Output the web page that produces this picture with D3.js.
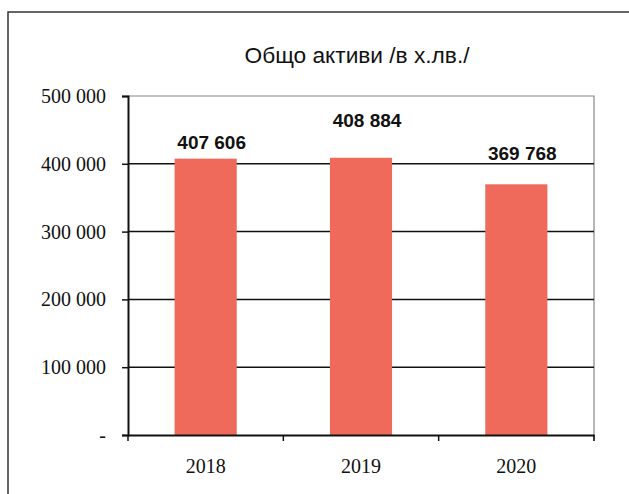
<!DOCTYPE html>
<html lang="bg">
<head>
    <meta charset="UTF-8">
    <title>Общо активи</title>
    <script src="https://d3js.org/d3.v7.min.js"></script>
    <style>
        body{ margin:0; background:#fff; }
        svg text{ fill:#111; }
    </style>
</head>
<body>
<svg id="chart" width="629" height="494"></svg>

<script>
    // data
    let years = ["2018", "2019", "2020"];
    let assets = [407606, 408884, 369768];
    let valueLabels = ["407 606", "408 884", "369 768"];
    let labelLift = [10, 31, 24]; // the labels don't sit at the same height above bars
    let yTicks = [0, 100000, 200000, 300000, 400000, 500000];
    let yTickLabels = ["-", "100 000", "200 000", "300 000", "400 000", "500 000"];

    let svg = d3.select("#chart");
    let plotLeft = 128, plotRight = 594, plotTop = 96, plotBottom = 435;

    // outer frame (scanned page edge)
    svg.append("path")
        .attr("d", "M8,494 L8,12 L629,12")
        .attr("fill", "none")
        .attr("stroke", "#333")
        .attr("stroke-width", 1.5);

    let x = d3.scaleBand()
        .domain(years)
        .range([plotLeft, plotRight])
        .paddingInner(0.6)
        .paddingOuter(0.3);

    let y = d3.scaleLinear()
        .domain([0, 500000])
        .range([plotBottom, plotTop]);

    // plot border top/right
    svg.append("path")
        .attr("d", `M${plotLeft},${plotTop} L${plotRight},${plotTop} L${plotRight},${plotBottom + 6}`)
        .attr("fill", "none")
        .attr("stroke", "#888")
        .attr("stroke-width", 1.2);

    // gridlines
    svg.append("g")
        .selectAll("line")
        .data(yTicks.filter(d => d > 0 && d < 500000))
        .join("line")
        .attr("x1", plotLeft)
        .attr("x2", plotRight)
        .attr("y1", d => y(d))
        .attr("y2", d => y(d))
        .attr("stroke", "#111")
        .attr("stroke-width", 1.5);

    // bars
    svg.append("g")
        .selectAll("rect")
        .data(assets)
        .join("rect")
        .attr("x", (d, i) => x(years[i]))
        .attr("y", d => y(d))
        .attr("width", x.bandwidth())
        .attr("height", d => plotBottom - y(d))
        .attr("fill", "#ef6a5a");

    // y axis
    let yAxis = d3.axisLeft(y)
        .tickValues(yTicks)
        .tickFormat((d, i) => yTickLabels[i])
        .tickSize(6)
        .tickPadding(16);
    let gy = svg.append("g")
        .attr("transform", `translate(${plotLeft},0)`)
        .call(yAxis);
    gy.select(".domain").attr("stroke", "#111").attr("stroke-width", 2);
    gy.selectAll(".tick line").attr("stroke", "#111").attr("stroke-width", 1.5);
    gy.selectAll(".tick text")
        .attr("font-family", "Liberation Serif, serif")
        .attr("font-size", 20)
        .attr("fill", "#111");

    // x axis
    let xAxis = d3.axisBottom(x).tickSize(0).tickPadding(24);
    let gx = svg.append("g")
        .attr("transform", `translate(0,${plotBottom})`)
        .call(xAxis);
    gx.select(".domain").attr("stroke", "#111").attr("stroke-width", 2);
    gx.selectAll(".tick text")
        .attr("font-family", "Liberation Serif, serif")
        .attr("font-size", 20)
        .attr("fill", "#111");

    // category separator ticks under the axis
    svg.append("g")
        .selectAll("line")
        .data(d3.range(years.length + 1))
        .join("line")
        .attr("x1", i => plotLeft + i * (plotRight - plotLeft) / years.length)
        .attr("x2", i => plotLeft + i * (plotRight - plotLeft) / years.length)
        .attr("y1", plotBottom)
        .attr("y2", plotBottom + 6)
        .attr("stroke", "#111")
        .attr("stroke-width", 1.5);

    // value labels
    svg.append("g")
        .selectAll("text")
        .data(assets)
        .join("text")
        .attr("x", (d, i) => x(years[i]) + x.bandwidth() / 2 + 6)
        .attr("y", (d, i) => y(d) - labelLift[i])
        .attr("text-anchor", "middle")
        .attr("font-family", "Liberation Sans, Arial, sans-serif")
        .attr("font-size", 19)
        .attr("font-weight", "bold")
        .text((d, i) => valueLabels[i]);

    // title
    svg.append("text")
        .attr("x", 357)
        .attr("y", 63)
        .attr("text-anchor", "middle")
        .attr("font-family", "Liberation Sans, Arial, sans-serif")
        .attr("font-size", 22)
        .attr("textLength", 225)
        .attr("lengthAdjust", "spacingAndGlyphs")
        .text("Общо активи /в х.лв./");
</script>
</body>
</html>
